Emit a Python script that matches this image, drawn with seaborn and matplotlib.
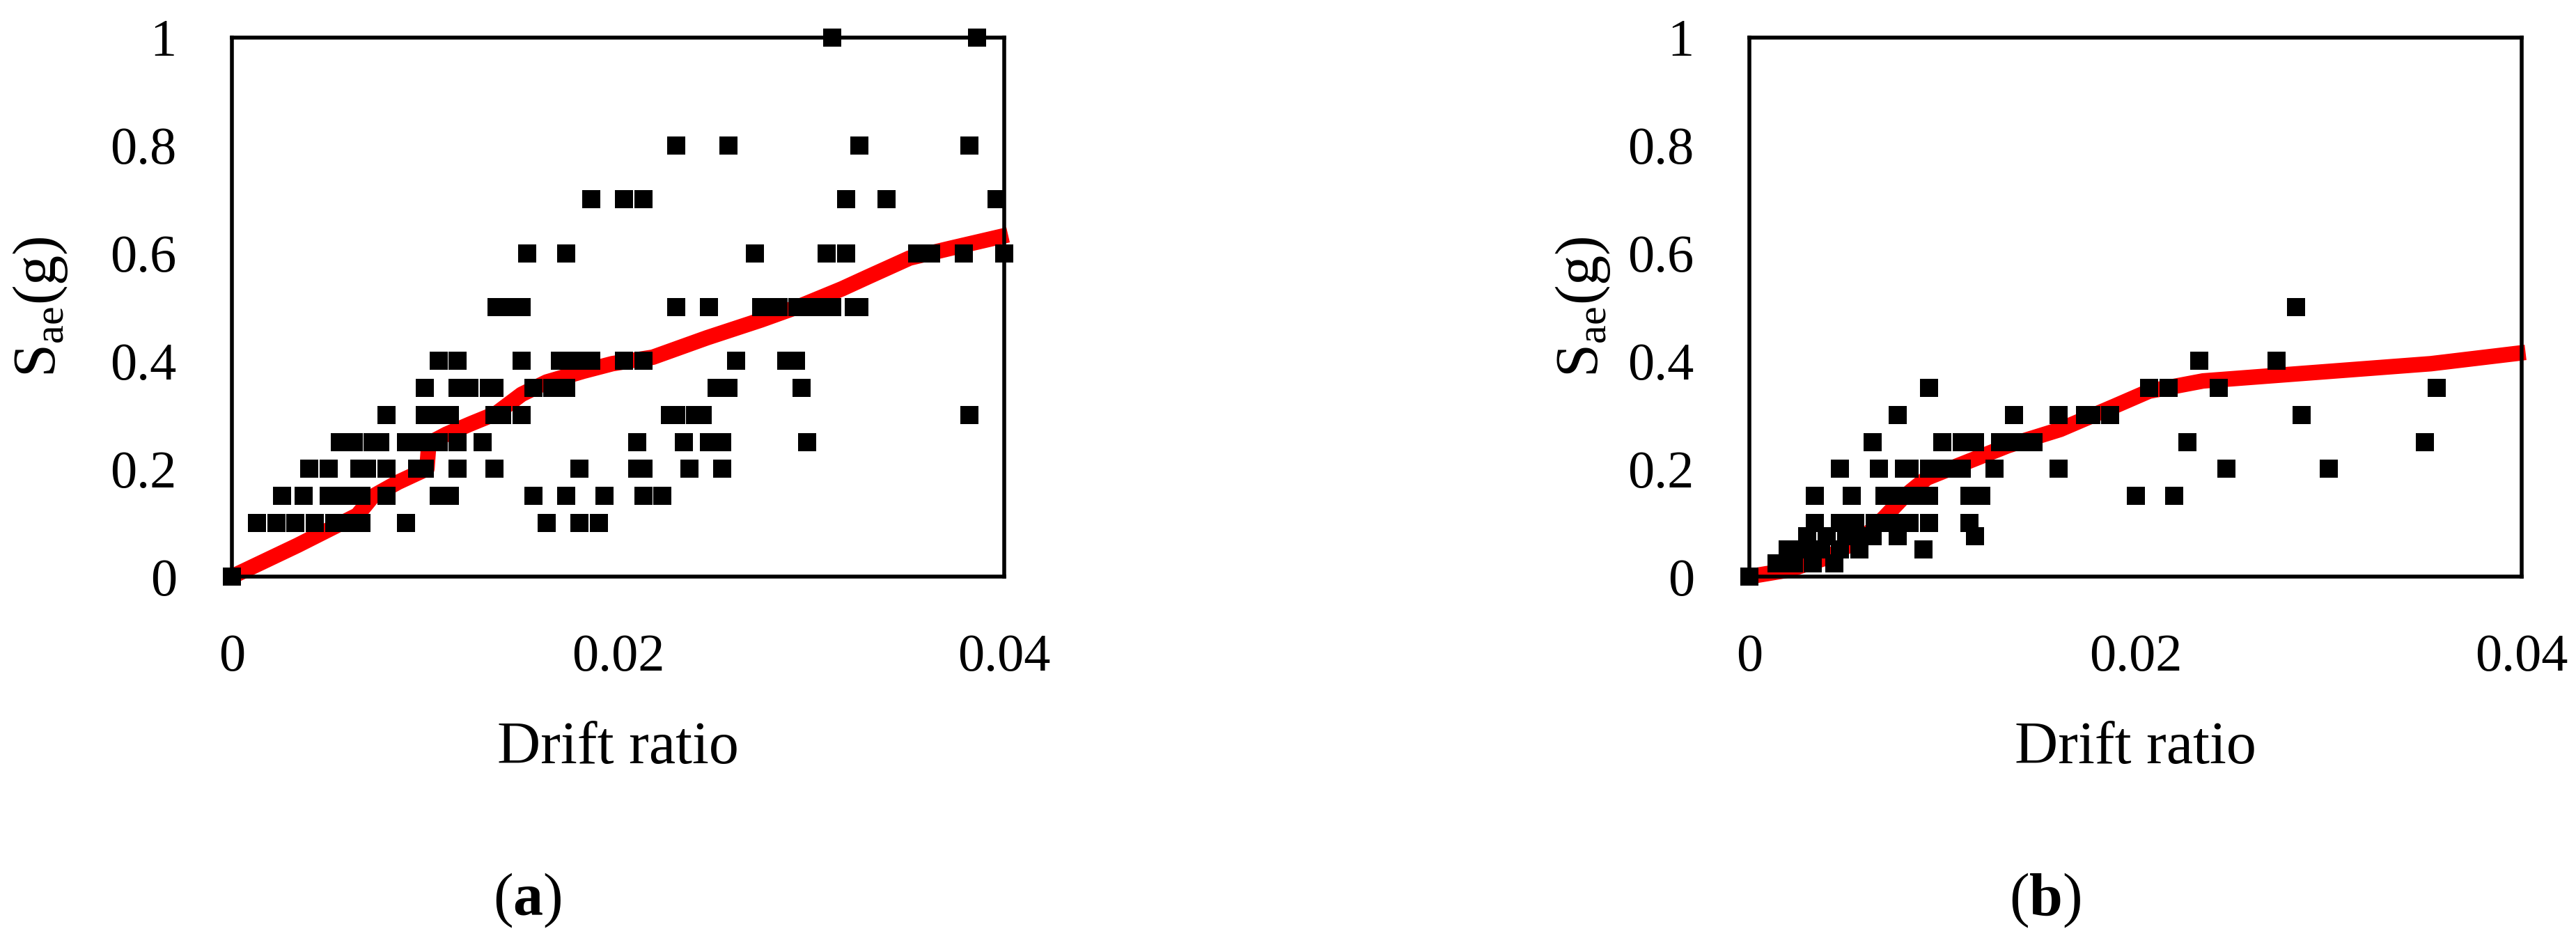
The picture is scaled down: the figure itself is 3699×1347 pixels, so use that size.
import numpy as np
import pandas as pd
import matplotlib
matplotlib.use("Agg")
import matplotlib.pyplot as plt
import seaborn as sns

sns.set_style("white")
plt.rcParams['font.family'] = ['Liberation Serif', 'DejaVu Serif']
plt.rcParams['mathtext.fontset'] = 'custom'
plt.rcParams['mathtext.rm'] = 'Liberation Serif'
plt.rcParams['mathtext.it'] = 'Liberation Serif:italic'
plt.rcParams['mathtext.bf'] = 'Liberation Serif:bold'
plt.rcParams['text.color'] = 'black'
plt.rcParams['axes.labelcolor'] = 'black'

RED = '#FF0000'

# ------------------------------------------------------------
# (a) test points: drift ratio grouped by Sae level
# ------------------------------------------------------------
a_levels = [1.0, 0.8, 0.7, 0.6, 0.5, 0.4, 0.35, 0.3, 0.25, 0.2, 0.15, 0.1, 0.0]
a_drifts = [
    [0.0311, 0.0386],
    [0.0230, 0.0257, 0.0325, 0.0382],
    [0.0186, 0.0203, 0.0213, 0.0318, 0.0339, 0.0396],
    [0.0153, 0.0173, 0.0271, 0.0308, 0.0318, 0.0355, 0.0362, 0.0379, 0.0400],
    [0.0137, 0.0142, 0.0150, 0.0230, 0.0247, 0.0274, 0.0283, 0.0293, 0.0302,
     0.0311, 0.0322, 0.0325],
    [0.0107, 0.0117, 0.0150, 0.0170, 0.0178, 0.0186, 0.0203, 0.0213, 0.0261,
     0.0287, 0.0292],
    [0.0100, 0.0117, 0.0123, 0.0133, 0.0136, 0.0156, 0.0166, 0.0173, 0.0251,
     0.0257, 0.0295],
    [0.0080, 0.0100, 0.0106, 0.0113, 0.0136, 0.0140, 0.0150, 0.0227, 0.0230,
     0.0240, 0.0244, 0.0382],
    [0.0056, 0.0063, 0.0073, 0.0077, 0.0090, 0.0099, 0.0107, 0.0117, 0.0130,
     0.0210, 0.0234, 0.0247, 0.0254, 0.0298],
    [0.0040, 0.0050, 0.0066, 0.0070, 0.0080, 0.0096, 0.0100, 0.0117, 0.0136,
     0.0180, 0.0210, 0.0213, 0.0237, 0.0254],
    [0.0026, 0.0037, 0.0050, 0.0059, 0.0067, 0.0080, 0.0107, 0.0113, 0.0156,
     0.0173, 0.0193, 0.0213, 0.0223],
    [0.0013, 0.0023, 0.0033, 0.0043, 0.0053, 0.0060, 0.0067, 0.0090, 0.0163,
     0.0180, 0.0190],
    [0.0],
]
# fitted curve (a)
a_curve_x = [0.0, 0.0034, 0.0065, 0.0073, 0.0086, 0.0101, 0.0102, 0.0111, 0.0124,
             0.0137, 0.0150, 0.0163, 0.0182, 0.0197, 0.0218, 0.0246, 0.0274,
             0.0295, 0.0316, 0.0330, 0.0351, 0.0372, 0.0402]
a_curve_y = [0.0, 0.058, 0.114, 0.149, 0.175, 0.200, 0.247, 0.264, 0.284,
             0.303, 0.338, 0.361, 0.381, 0.395, 0.407, 0.443, 0.476,
             0.503, 0.534, 0.557, 0.591, 0.609, 0.634]

# ------------------------------------------------------------
# (b) test points
# ------------------------------------------------------------
b_levels = [0.5, 0.4, 0.35, 0.3, 0.25, 0.2, 0.15, 0.1, 0.075, 0.05, 0.025, 0.0]
b_drifts = [
    [0.0283],
    [0.0233, 0.0273],
    [0.0093, 0.0207, 0.0217, 0.0243, 0.0356],
    [0.0077, 0.0137, 0.0160, 0.0174, 0.0177, 0.0187, 0.0286],
    [0.0064, 0.0100, 0.0110, 0.0117, 0.0130, 0.0139, 0.0147, 0.0227, 0.0350],
    [0.0047, 0.0067, 0.0080, 0.0083, 0.0093, 0.0102, 0.0110, 0.0127, 0.0160,
     0.0247, 0.0300],
    [0.0034, 0.0053, 0.0070, 0.0079, 0.0087, 0.0093, 0.0114, 0.0120, 0.0200,
     0.0220],
    [0.0034, 0.0047, 0.0055, 0.0065, 0.0074, 0.0083, 0.0093, 0.0114],
    [0.0030, 0.0040, 0.0050, 0.0059, 0.0064, 0.0077, 0.0117],
    [0.0020, 0.0029, 0.0037, 0.0047, 0.0057, 0.0090],
    [0.0014, 0.0023, 0.0033, 0.0044],
    [0.0],
]
b_curve_x = [0.0, 0.0020, 0.0040, 0.0060, 0.0070, 0.0080, 0.0092, 0.0113, 0.0134,
             0.0161, 0.0189, 0.0207, 0.0235, 0.0294, 0.0353, 0.0402]
b_curve_y = [0.0, 0.012, 0.035, 0.075, 0.110, 0.148, 0.183, 0.213, 0.243,
             0.273, 0.316, 0.344, 0.363, 0.379, 0.395, 0.416]

x_ticks = [0, 0.02, 0.04]
x_labels = ['0', '0.02', '0.04']
y_ticks = [0, 0.2, 0.4, 0.6, 0.8, 1.0]
y_labels = ['0', '0.2', '0.4', '0.6', '0.8', '1']


def to_frame(levels, drifts):
    rows = [(d, lv) for lv, ds in zip(levels, drifts) for d in ds]
    return pd.DataFrame(rows, columns=['drift', 'sae'])


W, H = 3699, 1347
fig = plt.figure(figsize=(W / 100, H / 100), dpi=100)

panels = [
    (to_frame(a_levels, a_drifts), a_curve_x, a_curve_y, 333, -0.210, 757, 'a'),
    (to_frame(b_levels, b_drifts), b_curve_x, b_curve_y, 2512, -0.178, 2937, 'b'),
]

for df, cx, cy, left_px, ylab_x, tag_px, tag in panels:
    ax = fig.add_axes([left_px / W, 1 - 828 / H, 1109 / W, 774 / H])
    sns.lineplot(x=cx, y=cy, sort=False, estimator=None, color=RED, linewidth=16,
                 solid_capstyle='butt', solid_joinstyle='round', clip_on=False,
                 zorder=2, ax=ax)
    sns.scatterplot(data=df, x='drift', y='sae', marker='s', s=350, color='black',
                    linewidth=0, clip_on=False, zorder=3, ax=ax)
    ax.set_xlim(0, 0.04)
    ax.set_ylim(0, 1)
    ax.set_xticks(x_ticks)
    ax.set_xticklabels(x_labels)
    ax.set_yticks(y_ticks)
    ax.set_yticklabels(y_labels)
    ax.tick_params(axis='both', length=0, labelsize=55, colors='black')
    ax.tick_params(axis='x', pad=59)
    ax.tick_params(axis='y', pad=57)
    for sp in ax.spines.values():
        sp.set_linewidth(4)
        sp.set_color('black')
    ax.set_xlabel('Drift ratio', fontsize=62, color='black')
    ax.xaxis.set_label_coords(0.5, -0.268)
    ax.set_ylabel(r'$\mathrm{S}_{\mathrm{ae}}$(g)', fontsize=62, color='black')
    ax.yaxis.set_label_coords(ylab_x, 0.5)
    fig.text(tag_px / W, 1 - 1293 / H, '(' + r'$\mathbf{' + tag + '}$' + ')',
             ha='center', va='center', fontsize=62, color='black')

fig.savefig('out.png', dpi=100)
